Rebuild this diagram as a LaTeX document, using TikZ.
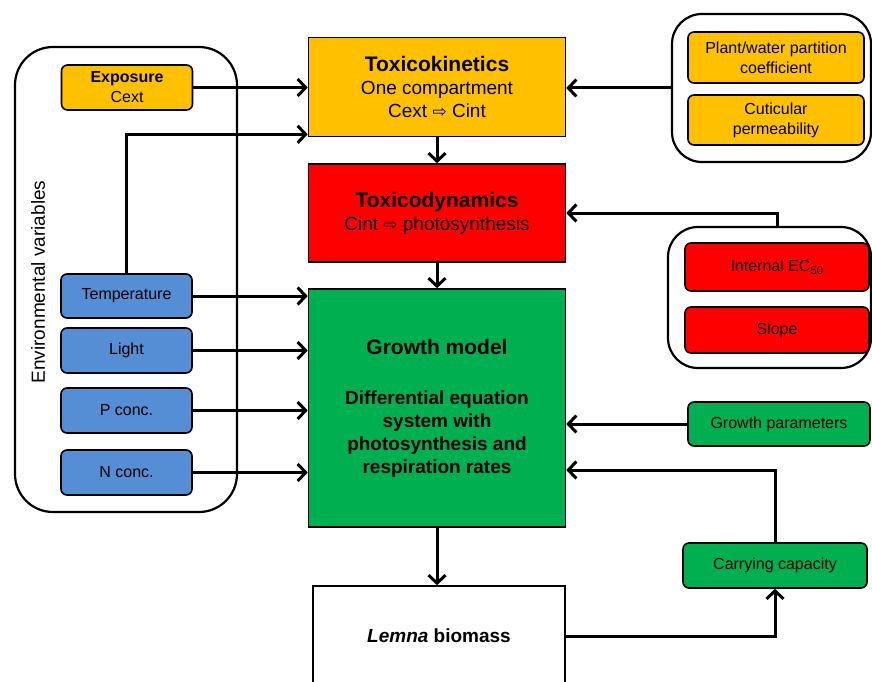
\documentclass[tikz,border=0pt]{standalone}
\usepackage{fontspec}
\setmainfont{Liberation Sans}
\newfontfamily\arrowfont{DejaVu Sans}
\usetikzlibrary{arrows.meta}

\begin{document}
\begin{tikzpicture}[x=1pt, y=-1pt,
    box/.style={draw=black, line width=1.6pt, align=center, inner sep=0pt},
    smallbox/.style={box, rounded corners=6pt, font=\fsSmall},
    group/.style={draw=black, line width=2.2pt, rounded corners=30pt, inner sep=0pt},
    link/.style={line width=3pt, -{Straight Barb[length=8pt,width=17pt]}}]
    % Define colours
    \definecolor{toxYellow}{HTML}{FFC000}
    \definecolor{toxRed}{HTML}{FF0000}
    \definecolor{growGreen}{HTML}{00B050}
    \definecolor{envBlue}{HTML}{558ED5}

    % Define font sizes
    \def\fsHead{\fontsize{21}{23}\selectfont}
    \def\fsBody{\fontsize{19}{23}\selectfont}
    \def\fsSmall{\fontsize{16}{20}\selectfont}
    \def\toarrow{{\arrowfont\fontsize{17}{17}\selectfont ⇨}}

    % Fix the picture size
    \useasboundingbox (0,0) rectangle (872,682);

    % Environmental variables group
    \node[group, rounded corners=38pt, minimum width=222pt, minimum height=465pt] (envgroup) at (126,279.5) {};
    \node[rotate=90, font=\fsBody] (envlabel) at (38,282) {Environmental variables};
    \node[smallbox, fill=toxYellow, minimum width=131pt, minimum height=45pt] (exposure) at (127,87.5)
        {\textbf{Exposure}\\Cext};
    \node[smallbox, fill=envBlue, minimum width=131pt, minimum height=44pt] (temp) at (126.5,296) {Temperature};
    \node[smallbox, fill=envBlue, minimum width=131pt, minimum height=45pt] (light) at (126.5,350.5) {Light};
    \node[smallbox, fill=envBlue, minimum width=131pt, minimum height=45pt] (pconc) at (126.5,410.5) {P conc.};
    \node[smallbox, fill=envBlue, minimum width=131pt, minimum height=45pt] (nconc) at (126.5,472.5) {N conc.};

    % Main model chain
    \node[box, fill=toxYellow, minimum width=257pt, minimum height=99pt, font=\fsBody] (tk) at (437,87)
        {{\fsHead\bfseries Toxicokinetics}\\One compartment\\Cext \toarrow{} Cint};
    \node[box, fill=toxRed, minimum width=257pt, minimum height=98pt, font=\fsBody] (td) at (437,213)
        {{\fsHead\bfseries Toxicodynamics}\\Cint \toarrow{} photosynthesis};
    \node[box, fill=growGreen, minimum width=257pt, minimum height=238pt, font=\fsBody\bfseries] (growth) at (437,408)
        {{\fsHead Growth model}\\[27pt]Differential equation\\system with\\photosynthesis and\\respiration rates};
    \node[box, fill=white, minimum width=252pt, minimum height=100pt, font=\fsBody\bfseries] (lemna) at (439,636)
        {\textit{Lemna} biomass};

    % Toxicokinetic parameters
    \node[group, minimum width=199pt, minimum height=148pt] (tkgroup) at (771.5,88) {};
    \node[smallbox, fill=toxYellow, minimum width=176pt, minimum height=51pt] (partition) at (776,57.5)
        {Plant/water partition\\coefficient};
    \node[smallbox, fill=toxYellow, minimum width=176pt, minimum height=50pt] (cuticle) at (776,120)
        {Cuticular\\permeability};

    % Toxicodynamic parameters
    \node[group, minimum width=203pt, minimum height=141pt] (tdgroup) at (769.5,297.5) {};
    \node[smallbox, fill=toxRed, minimum width=184pt, minimum height=48pt] (ecfifty) at (777,267) {Internal EC\textsubscript{50}};
    \node[smallbox, fill=toxRed, minimum width=184pt, minimum height=46pt] (slope) at (777,330) {Slope};

    % Growth parameters and carrying capacity
    \node[smallbox, fill=growGreen, minimum width=182pt, minimum height=44pt] (growpar) at (779,424) {Growth parameters};
    \node[smallbox, fill=growGreen, minimum width=184pt, minimum height=45pt] (capacity) at (775,565.5) {Carrying capacity};

    % Draw the connectors
    \draw[link] (exposure.east) -- (exposure.east -| tk.west);
    \draw[link] (temp.north) |- ([yshift=3pt]tk.south west);
    \draw[link] (temp.east) -- (temp.east -| growth.west);
    \draw[link] (light.east) -- (light.east -| growth.west);
    \draw[link] (pconc.east) -- (pconc.east -| growth.west);
    \draw[link] (nconc.east) -- (nconc.east -| growth.west);
    \draw[link] (tk.south) -- (td.north);
    \draw[link] (td.south) -- (growth.north);
    \draw[link] (growth.south) -- (growth.south |- lemna.north);
    \draw[link] (tkgroup.west) -- (tkgroup.west -| tk.east);
    \draw[link] (ecfifty.north |- tdgroup.north) |- (td.east);
    \draw[link] (growpar.west) -- (growpar.west -| growth.east);
    \draw[link] (capacity.north) |- ([yshift=-62pt]growth.east);
    \draw[link] (lemna.east) -| (capacity.south);

\end{tikzpicture}
\end{document}
